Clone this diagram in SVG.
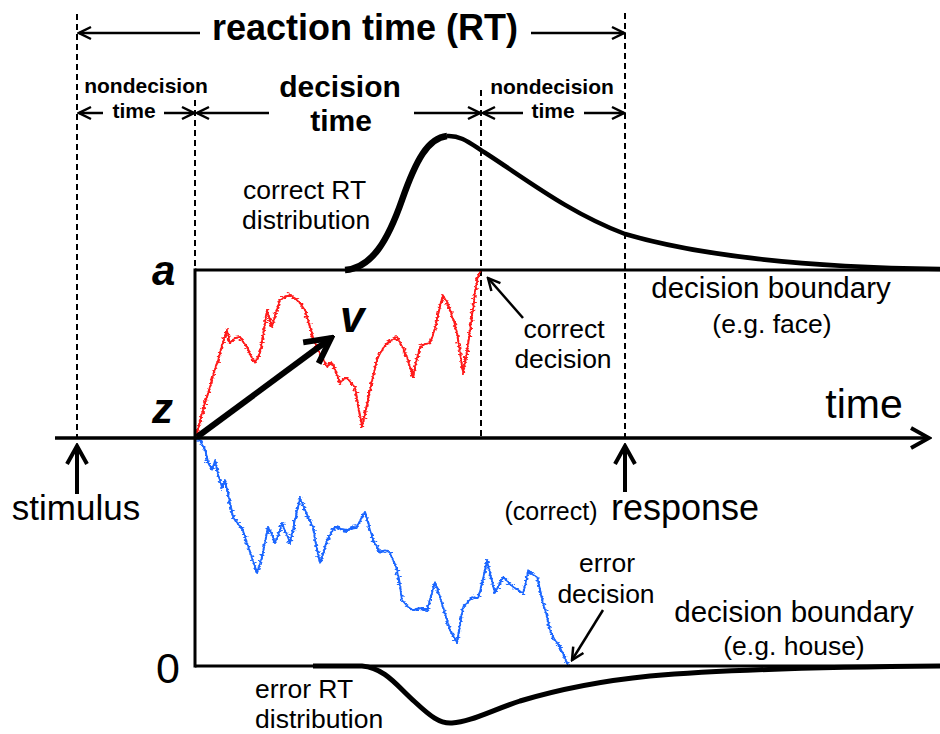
<svg xmlns="http://www.w3.org/2000/svg" width="940" height="734" viewBox="0 0 940 734">
<style>
  text { font-family: "Liberation Sans", Arial, Helvetica, sans-serif; fill: #000; }
  .b { font-weight: bold; }
  .bi { font-weight: bold; font-style: italic; }
  .lbl { font-size: 26.5px; }
  .dash { stroke: #000; stroke-width: 2; stroke-dasharray: 6 4; fill: none; }
  .solid { stroke: #000; fill: none; stroke-linecap: butt; }
  .thin { stroke: #000; stroke-width: 2.5; fill: none; }
  .walk { fill: none; stroke-width: 1.4; stroke-linejoin: round; }
  .walkj { fill: none; stroke-width: 2; stroke-linejoin: round; }
</style>
<defs>
  <marker id="ah" viewBox="0 0 16 16" refX="14" refY="8" markerWidth="16" markerHeight="16" markerUnits="userSpaceOnUse" orient="auto-start-reverse">
    <path d="M2,2 L14,8 L2,14" fill="none" stroke="#000" stroke-width="2.5"/>
  </marker>
  <marker id="ahb" viewBox="0 0 24 24" refX="21" refY="12" markerWidth="24" markerHeight="24" markerUnits="userSpaceOnUse" orient="auto">
    <path d="M3,2 L21,12 L3,22" fill="none" stroke="#000" stroke-width="4"/>
  </marker>
  <marker id="ahv" viewBox="0 0 32 32" refX="28" refY="16" markerWidth="32" markerHeight="32" markerUnits="userSpaceOnUse" orient="auto">
    <path d="M3,3 L28,16 L3,29" fill="none" stroke="#000" stroke-width="6"/>
  </marker>
  <filter id="jit" x="-10%" y="-10%" width="120%" height="120%">
    <feTurbulence type="fractalNoise" baseFrequency="0.12 0.5" numOctaves="2" seed="7" result="n"/>
    <feDisplacementMap in="SourceGraphic" in2="n" scale="7" xChannelSelector="R" yChannelSelector="G"/>
  </filter>
  <polyline id="redpath" points="196,437 202,413 206,400 210,387 214,372 218,360 222,345 227,330 230,343 235,338 240,337 244,343 247,347 251,356 255,363 258,357 260,353 264,330 267,310 270,320 272,327 276,312 280,300 285,297 290,295 295,298 300,303 305,310 310,327 315,343 318,350 322,357 327,367 332,363 336,372 340,383 344,379 347,378 351,383 355,387 358,405 362,427 365,414 368,400 372,380 377,360 382,350 387,343 392,340 397,337 402,346 407,357 413,377 416,362 420,347 425,344 430,343 434,332 437,320 440,306 443,295 447,302 450,310 454,322 457,333 460,352 463,373 467,352 470,330 473,310 475,292 478,276 481,270"/>
  <polyline id="bluepath" points="196,439 200,440 205,450 208,462 212,470 215,460 218,474 222,488 225,480 229,498 233,517 238,524 243,530 247,543 252,558 257,573 262,557 265,542 268,527 272,535 275,543 279,533 282,523 286,533 290,543 295,520 300,498 304,508 308,517 313,527 316,545 320,563 324,551 327,540 331,533 335,527 341,529 347,530 352,528 357,527 361,519 365,512 369,526 373,540 377,547 380,553 385,550 390,553 394,562 397,570 400,585 402,600 407,606 413,610 420,608 427,610 431,596 435,582 439,594 443,607 447,620 450,630 454,637 457,643 460,625 463,607 468,602 472,597 475,598 478,598 483,580 487,560 491,577 495,593 499,585 503,577 508,582 513,587 518,590 523,593 526,582 528,570 532,574 537,577 540,590 543,603 547,617 550,630 555,640 560,647 564,656 567,663 568,666"/>
</defs>

<g id="guides">
  <line class="dash" x1="77" y1="14" x2="77" y2="438"/>
  <line class="dash" x1="195" y1="100" x2="195" y2="270"/>
  <line class="dash" x1="481" y1="90" x2="481" y2="438"/>
  <line class="dash" x1="625" y1="13" x2="625" y2="438"/>
</g>

<g id="distributions">
  <path class="solid" stroke-width="6.5" stroke-linecap="round" d="M345,270 C372,268 388,240 402,200 C416,160 428,138 447,136"/>
  <path class="solid" stroke-width="4.5" stroke-linecap="round" d="M447,136 C462,135 472,145 487,154 C530,182 570,213 625,234 C700,256 800,267 940,269"/>
  <path class="solid" stroke-width="5" d="M313,666 L362,666 C385,668 397,686 415,702 C430,716 440,724 452,723 C470,722 490,711 520,701 C560,689 600,681 650,676 C720,670 820,667 940,666"/>
</g>

<g id="walks">
  <use href="#bluepath" class="walk" stroke="#1a66ff"/>
  <use href="#bluepath" class="walkj" stroke="#1a66ff" filter="url(#jit)"/>
  <use href="#redpath" class="walk" stroke="#ff1a1a"/>
  <use href="#redpath" class="walkj" stroke="#ff1a1a" filter="url(#jit)"/>
</g>

<g id="axes">
  <line class="solid" stroke-width="3" x1="195" y1="270" x2="940" y2="270"/>
  <line class="solid" stroke-width="3" x1="195" y1="666" x2="940" y2="666"/>
  <line class="solid" stroke-width="3" x1="195" y1="268.5" x2="195" y2="667.5"/>
  <line class="solid" stroke-width="3.5" x1="55" y1="438" x2="929" y2="438" marker-end="url(#ahb)"/>
</g>

<g id="connectors">
  <line class="thin" x1="200" y1="33" x2="79" y2="33" marker-end="url(#ah)"/>
  <line class="thin" x1="531" y1="33" x2="624" y2="33" marker-end="url(#ah)"/>
  <line class="thin" x1="103" y1="113" x2="79" y2="113" marker-end="url(#ah)"/>
  <line class="thin" x1="164" y1="113" x2="194" y2="113" marker-end="url(#ah)"/>
  <line class="thin" x1="269" y1="113" x2="197" y2="113" marker-end="url(#ah)"/>
  <line class="thin" x1="414" y1="113" x2="480" y2="113" marker-end="url(#ah)"/>
  <line class="thin" x1="523" y1="113" x2="483" y2="113" marker-end="url(#ah)"/>
  <line class="thin" x1="584" y1="113" x2="624" y2="113" marker-end="url(#ah)"/>
  <line class="thin" x1="523" y1="318" x2="488" y2="278" marker-end="url(#ah)"/>
  <line class="thin" x1="603" y1="610" x2="572" y2="660" marker-end="url(#ah)"/>
  <line class="solid" stroke-width="4" x1="77" y1="494" x2="77" y2="446" marker-end="url(#ahb)"/>
  <line class="solid" stroke-width="4" x1="625" y1="492" x2="625" y2="446" marker-end="url(#ahb)"/>
  <line class="solid" stroke-width="6" x1="197" y1="437" x2="331" y2="338" marker-end="url(#ahv)"/>
</g>

<g id="label-rt"><text class="b" x="365" y="40" font-size="36" text-anchor="middle">reaction time (RT)</text></g>
<g id="label-nondecision-left">
  <text class="b" x="146" y="93" font-size="21" text-anchor="middle">nondecision</text>
  <text class="b" x="134" y="118" font-size="21" text-anchor="middle">time</text>
</g>
<g id="label-decision-time">
  <text class="b" x="340" y="97" font-size="30" text-anchor="middle">decision</text>
  <text class="b" x="341" y="131" font-size="30" text-anchor="middle">time</text>
</g>
<g id="label-nondecision-right">
  <text class="b" x="552" y="94" font-size="21" text-anchor="middle">nondecision</text>
  <text class="b" x="553" y="118" font-size="21" text-anchor="middle">time</text>
</g>
<g id="label-correct-dist">
  <text class="lbl" x="243" y="199">correct RT</text>
  <text class="lbl" x="242" y="229">distribution</text>
</g>
<g id="label-a"><text class="bi" x="152" y="285" font-size="42">a</text></g>
<g id="label-z"><text class="bi" x="152" y="423" font-size="42">z</text></g>
<g id="label-v"><text class="bi" x="340" y="332" font-size="44">v</text></g>
<g id="label-0"><text x="156" y="683" font-size="43">0</text></g>
<g id="label-correct-decision">
  <text class="lbl" x="564" y="338" text-anchor="middle">correct</text>
  <text class="lbl" x="563" y="368" text-anchor="middle">decision</text>
</g>
<g id="label-boundary-face">
  <text x="771" y="298" font-size="29.5" text-anchor="middle">decision boundary</text>
  <text x="772" y="333" font-size="26.5" text-anchor="middle">(e.g. face)</text>
</g>
<g id="label-time"><text x="864" y="418" font-size="41" text-anchor="middle">time</text></g>
<g id="label-stimulus"><text x="76" y="520" font-size="35" text-anchor="middle">stimulus</text></g>
<g id="label-response">
  <text x="551" y="520" font-size="25" text-anchor="middle">(correct)</text>
  <text x="685" y="520" font-size="36" text-anchor="middle">response</text>
</g>
<g id="label-error-decision">
  <text class="lbl" x="607" y="572" text-anchor="middle">error</text>
  <text class="lbl" x="606" y="603" text-anchor="middle">decision</text>
</g>
<g id="label-boundary-house">
  <text x="794" y="622" font-size="29.5" text-anchor="middle">decision boundary</text>
  <text x="794" y="655" font-size="26.5" text-anchor="middle">(e.g. house)</text>
</g>
<g id="label-error-dist">
  <text class="lbl" x="255" y="698">error RT</text>
  <text class="lbl" x="255" y="728">distribution</text>
</g>
</svg>
